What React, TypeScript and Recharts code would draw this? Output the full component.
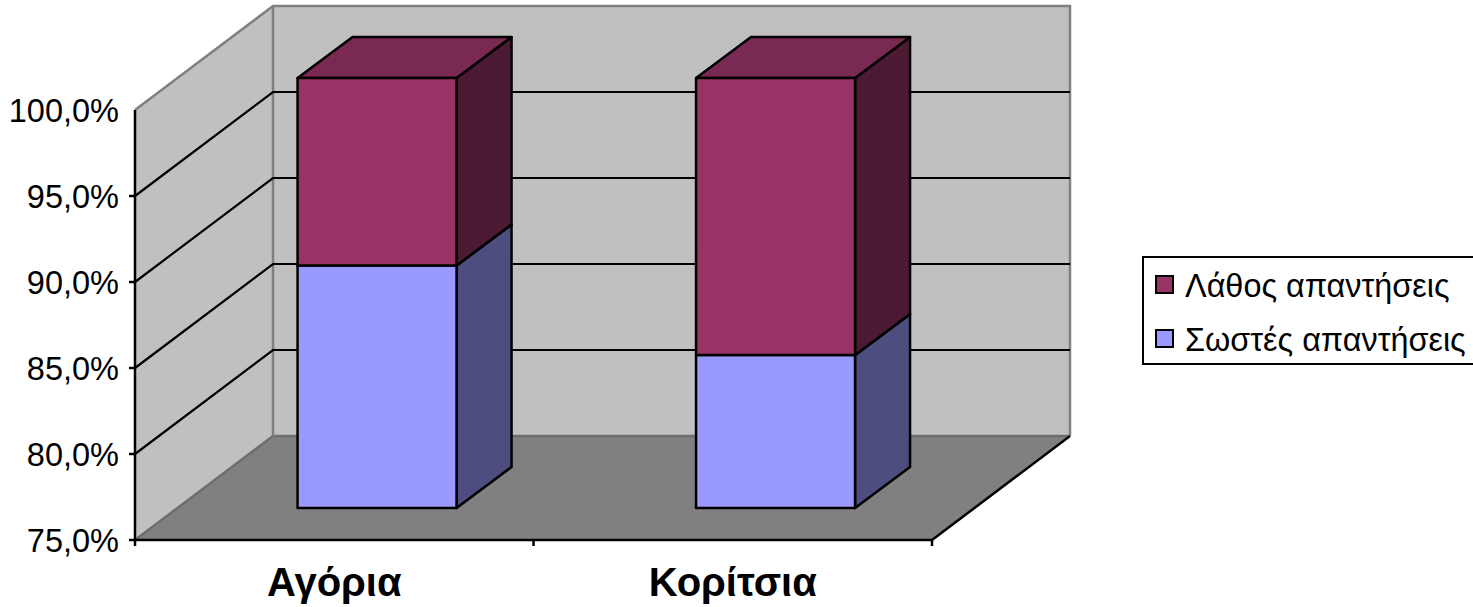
import { BarChart, Bar, XAxis, YAxis, CartesianGrid, Customized, Legend } from 'recharts';

const categories = ['Αγόρια', 'Κορίτσια'];
const correctAnswers = [89.1, 83.9];
const wrongAnswers = [10.9, 16.1];
const valueTicks = [75, 80, 85, 90, 95, 100];
const gridValues = [80, 85, 90, 95];

const chartData = categories.map((name, i) => ({
    name,
    correct: correctAnswers[i],
    wrong: wrongAnswers[i],
}));

const WIDTH = 1473;
const HEIGHT = 607;
const FONT = '"Liberation Sans", Arial, sans-serif';

// front plane of the axes and how far the back wall sits behind it
const LEFT = 135;
const FRONT_RIGHT = 932;
const FLOOR_Y = 540;
const TOP_Y = 110;
const WALL_DX = 138;
const WALL_DY = 104;
const BACK_RIGHT = FRONT_RIGHT + WALL_DX;

// bars stand partway into the floor and have their own depth
const BAR_SHIFT_X = 43;
const BAR_SHIFT_Y = 32;
const BAR_DX = 55;
const BAR_DY = 41;

const BAND = (FRONT_RIGHT - LEFT) / 2;
// the plot area also covers the walls, so the value axis runs on above 100
const DOMAIN_TOP = 75 + ((FLOOR_Y - (TOP_Y - WALL_DY)) / (FLOOR_Y - TOP_Y)) * 25;

const pts = (list: number[][]) => list.map((p) => p.join(',')).join(' ');

function Walls() {
    const bx = LEFT + WALL_DX;
    const by = FLOOR_Y - WALL_DY;
    const ty = TOP_Y - WALL_DY;
    return (
        <g>
            <polygon points={pts([[LEFT, FLOOR_Y], [LEFT, TOP_Y], [bx, ty], [bx, by]])} fill="#c0c0c0" />
            <rect x={bx} y={ty} width={BACK_RIGHT - bx} height={by - ty} fill="#c0c0c0" />
            <polygon
                points={pts([[LEFT, FLOOR_Y], [bx, by], [BACK_RIGHT, by], [FRONT_RIGHT, FLOOR_Y]])}
                fill="#808080"
            />
            <polyline
                points={pts([[LEFT, FLOOR_Y], [bx, by], [BACK_RIGHT, by]])}
                fill="none"
                stroke="#6e6e6e"
                strokeWidth={2.5}
            />
            <polyline
                points={pts([[LEFT, TOP_Y], [bx, ty], [BACK_RIGHT, ty], [BACK_RIGHT, by]])}
                fill="none"
                stroke="#808080"
                strokeWidth={2.5}
            />
            <line x1={bx} y1={ty} x2={bx} y2={by} stroke="#808080" strokeWidth={2.5} />
            <line x1={FRONT_RIGHT} y1={FLOOR_Y} x2={BACK_RIGHT} y2={by} stroke="#000" strokeWidth={2.5} />
            <line x1={LEFT} y1={TOP_Y} x2={LEFT} y2={FLOOR_Y} stroke="#000" strokeWidth={2.5} />
            <line x1={LEFT} y1={FLOOR_Y} x2={FRONT_RIGHT} y2={FLOOR_Y} stroke="#000" strokeWidth={2.5} />
        </g>
    );
}

function GridLine({ y1 }: any) {
    return (
        <polyline
            points={pts([[LEFT, y1], [LEFT + WALL_DX, y1 - WALL_DY], [BACK_RIGHT, y1 - WALL_DY]])}
            fill="none"
            stroke="#000"
            strokeWidth={2.2}
        />
    );
}

const box = (side: string, top: string) => (props: any) => {
    const { x, y, width, height, fill } = props;
    const l = x + BAR_SHIFT_X;
    const r = l + width;
    const t = y - BAR_SHIFT_Y;
    // stacks start at zero, which is far below the floor of this axis
    const b = Math.min(y + height, FLOOR_Y) - BAR_SHIFT_Y;
    return (
        <g stroke="#000" strokeWidth={2.5} strokeLinejoin="round">
            <polygon points={pts([[r, t], [r + BAR_DX, t - BAR_DY], [r + BAR_DX, b - BAR_DY], [r, b]])} fill={side} />
            <polygon points={pts([[l, t], [l + BAR_DX, t - BAR_DY], [r + BAR_DX, t - BAR_DY], [r, t]])} fill={top} />
            <rect x={l} y={t} width={width} height={b - t} fill={fill} />
        </g>
    );
};

function ValueTick({ y, payload }: any) {
    return (
        <g>
            {payload.value < 100 && <line x1={LEFT - 6} y1={y} x2={LEFT} y2={y} stroke="#000" strokeWidth={2.5} />}
            <text x={LEFT - 16} y={y + 12} textAnchor="end" fontSize={32.5} fontFamily={FONT} fill="#000">
                {payload.value.toFixed(1).replace('.', ',')}%
            </text>
        </g>
    );
}

function CategoryTick({ x, payload, index }: any) {
    const edge = index === 0 ? x - BAND / 2 : x + BAND / 2;
    return (
        <g>
            <line x1={edge} y1={FLOOR_Y} x2={edge} y2={FLOOR_Y + 6} stroke="#000" strokeWidth={2.5} />
            {index === 0 && (
                <line x1={x + BAND / 2} y1={FLOOR_Y} x2={x + BAND / 2} y2={FLOOR_Y + 6} stroke="#000" strokeWidth={2.5} />
            )}
            <text x={x} y={596} textAnchor="middle" fontSize={40} fontWeight="bold" fontFamily={FONT} fill="#000">
                {payload.value}
            </text>
        </g>
    );
}

function LegendBox({ payload }: any) {
    return (
        <div
            style={{
                boxSizing: 'border-box',
                width: 340,
                height: 109,
                border: '2.5px solid #000',
                paddingLeft: 11,
                fontFamily: FONT,
                fontSize: 32.4,
                color: '#000',
            }}
        >
            {(payload ?? []).map((item: any) => (
                <div key={item.value} style={{ display: 'flex', alignItems: 'center', height: 53.5, whiteSpace: 'nowrap' }}>
                    <span
                        style={{
                            boxSizing: 'border-box',
                            width: 19,
                            height: 19,
                            border: '2.5px solid #000',
                            background: item.color,
                            marginRight: 11,
                        }}
                    />
                    <span style={{ position: 'relative', top: 2 }}>{item.value}</span>
                </div>
            ))}
        </div>
    );
}

export default function App() {
    return (
        <div style={{ position: 'absolute', left: 0, top: 0, width: WIDTH, height: HEIGHT, overflow: 'hidden', background: '#fff' }}>
            <BarChart
                width={WIDTH}
                height={HEIGHT}
                data={chartData}
                barCategoryGap="30%"
                margin={{ top: TOP_Y - WALL_DY, right: WIDTH - BACK_RIGHT, bottom: 0, left: 0 }}
            >
                <Customized component={Walls} />
                <CartesianGrid
                    zIndex={50}
                    vertical={false}
                    horizontal={(props: any) => <GridLine key={props.key} {...props} />}
                    horizontalValues={gridValues}
                />
                <XAxis
                    dataKey="name"
                    height={HEIGHT - FLOOR_Y}
                    axisLine={false}
                    tickLine={false}
                    tick={<CategoryTick />}
                    padding={{ left: 0, right: WALL_DX }}
                />
                <YAxis
                    width={LEFT}
                    domain={[75, DOMAIN_TOP]}
                    ticks={valueTicks}
                    allowDataOverflow
                    axisLine={false}
                    tickLine={false}
                    tick={<ValueTick />}
                />
                <Bar
                    dataKey="correct"
                    name="Σωστές απαντήσεις"
                    stackId="a"
                    fill="#9999ff"
                    shape={box('#4d4d80', '#7a7acc')}
                    isAnimationActive={false}
                />
                <Bar
                    dataKey="wrong"
                    name="Λάθος απαντήσεις"
                    stackId="a"
                    fill="#993366"
                    shape={box('#4d1a33', '#7a2952')}
                    isAnimationActive={false}
                />
                <Legend
                    layout="vertical"
                    align="center"
                    verticalAlign="middle"
                    content={<LegendBox />}
                    wrapperStyle={{ left: 1142, top: 256, width: 340 }}
                />
            </BarChart>
        </div>
    );
}
